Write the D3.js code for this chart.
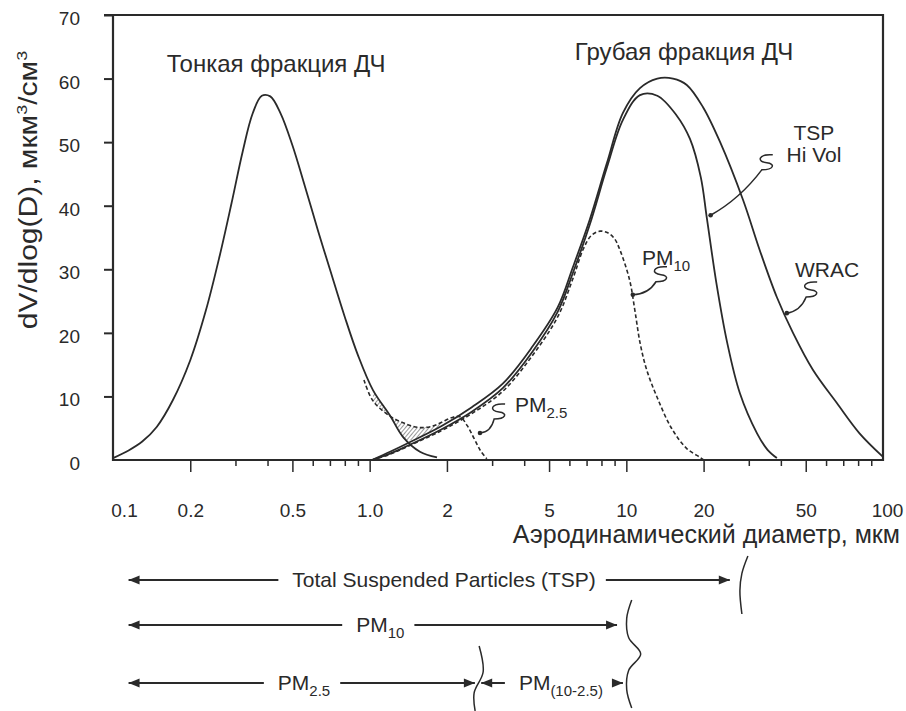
<!DOCTYPE html>
<html><head><meta charset="utf-8">
<script src="https://cdn.jsdelivr.net/npm/d3@7"></script>
<style>
body{margin:0;background:#fff}
text{font-family:"Liberation Sans",Arial,Helvetica,sans-serif;fill:#2a2a2a}
</style>
</head><body>
<svg id="chart" width="906" height="711"></svg>
<script>
// ---------------- data ----------------
const yTicks = [0,10,20,30,40,50,60,70];
const xLabelValues = [0.1,0.2,0.5,1,2,5,10,20,50,100];
const xLabelTexts  = ["0.1","0.2","0.5","1.0","2","5","10","20","50","100"];

// [diameter (µm), dV/dlog(D)]
const fineMode = [[0.1,0.3],[0.115,1.5],[0.13,2.9],[0.148,5.2],[0.171,9.4],[0.2,15.7],[0.23,23.5],
  [0.26,32],[0.29,40.5],[0.32,48.5],[0.35,54.5],[0.38,57.3],[0.41,57.2],[0.45,54.5],[0.5,49.5],
  [0.56,43],[0.63,36],[0.7,30],[0.8,22.5],[0.9,16.5],[1.03,11],[1.2,7.0],[1.35,3.6],[1.57,1.3],[1.83,0.4]];
const wrac = [[1.02,0],[1.2,1.3],[1.4,2.6],[1.9,5.3],[2.5,8.3],[3.3,12],[4.3,17.8],[5.4,24],[6.2,30.4],
  [7.2,37.8],[8.4,46.7],[9.7,54.6],[11.3,58.5],[13.2,60],[15.2,60],[17.2,59],[19.9,55.5],[23.2,50],
  [28.5,40.9],[33.1,33],[38.6,25.6],[44.6,20],[53.3,14.2],[66,9],[81,4.2],[100,0.5]];
const tspHiVol = [[1.02,0],[1.2,1.0],[1.4,2.2],[1.9,4.8],[2.5,7.6],[3.3,11.3],[4.3,17],[5.4,23.3],
  [6.2,29.5],[7.2,37],[8.4,46],[9.7,53.5],[11.3,57.4],[13.2,57.3],[15.7,54.2],[17.7,50.5],[19.5,44.5],
  [20.6,38],[22.5,27.5],[24.7,18.5],[27.7,10.5],[32.3,4.2],[35.5,1.6],[38.6,0.3]];
const pm10 = [[1.02,0],[1.2,0.9],[1.4,2.1],[1.9,4.6],[2.5,7.3],[3.3,10.8],[4.3,16.4],[5.4,22.5],
  [6.2,28.6],[6.8,33.2],[7.3,35.3],[7.9,36],[8.5,35.7],[9.0,34.8],[9.45,33],[10.3,28.3],[10.8,23.5],
  [11.3,18.5],[12.0,14.2],[13.2,9.8],[15.0,5],[17.2,1.8],[19.4,0.4],[20,0]];
const pm25 = [[0.95,12.6],[1.03,9.3],[1.2,6.9],[1.4,5.6],[1.57,5.1],[1.75,5.3],[1.9,5.9],[2.1,6.7],
  [2.25,6.8],[2.4,5.4],[2.55,3.4],[2.7,1.5],[2.86,0.2]];

// annotation anchors [D, value]: label, squiggle top, arrow target
const annotations = [
  {lines:[["PM","2.5"]], label:[3.68,7.55], squig:[3.37,8.8], target:[2.69,4.25], anchor:"start"},
  {lines:[["PM","10"]],  label:[11.5,30.7], squig:[14.4,30.4], target:[10.6,26], anchor:"start"},
  {lines:[["TSP",""],["Hi Vol",""]], label:[53.8,50.3], squig:[37.2,48], target:[21.3,38.5], anchor:"middle"},
  {lines:[["WRAC",""]], label:[45.4,28.8], squig:[55.4,28], target:[42.2,23.1], anchor:"start"}
];
const modeTitles = [
  {text:"Тонкая фракция ДЧ", at:[0.162,61]},
  {text:"Грубая фракция ДЧ", at:[6.3,62.9]}
];
// size-range bars below the axis: [from, to] in µm, label centre in µm
const rangeBars = [
  {main:"Total Suspended Particles (TSP)", sub:"", from:0.115, to:25.3, mid:1.95, row:0},
  {main:"PM", sub:"10", from:0.115, to:9.2, mid:1.1, row:1},
  {main:"PM", sub:"2.5", from:0.115, to:2.57, mid:0.555, row:2},
  {main:"PM", sub:"(10-2.5)", from:2.72, to:9.7, mid:5.56, row:2}
];
const braces = [ {at:28.2, row:0}, {at:10.4, row:1}, {at:2.67, row:2} ];

// ---------------- drawing ----------------
const svg = d3.select("#chart");
const ink = "#2a2a2a";
const x = d3.scaleLog().domain([0.1,100]).range([113,883]);
const y = d3.scaleLinear().domain([0,70]).range([460,15]);

// hatch pattern
const defs = svg.append("defs");
const pat = defs.append("pattern").attr("id","hatch").attr("width",3).attr("height",3)
  .attr("patternUnits","userSpaceOnUse").attr("patternTransform","rotate(40)");
pat.append("line").attr("x1",0).attr("y1",0).attr("x2",0).attr("y2",3).attr("stroke","#333").attr("stroke-width",1);

// y axis
const yAxis = d3.axisLeft(y).tickValues(yTicks.filter(v=>v>0)).tickSize(9).tickPadding(24).tickFormat(d3.format("d"));
const gy = svg.append("g").attr("transform","translate(113,0)").call(yAxis);
gy.select(".domain").remove();
gy.selectAll(".tick line").attr("stroke",ink).attr("stroke-width",2);
gy.selectAll(".tick text").attr("font-size",19).attr("dy","0.5em").style("fill",ink);
svg.append("text").attr("x",113-33).attr("y",y(0)).attr("dy","0.5em").attr("text-anchor","end")
  .attr("font-size",19).text("0");

// x axis: minor ticks
const allTicks = x.ticks().filter(v=>v>0.1 && v<100);
const isMajor = v => [1,2,5].includes(Math.round(v/Math.pow(10,Math.floor(Math.log10(v)+1e-9))));
const gxMinor = svg.append("g").attr("transform","translate(0,460)")
  .call(d3.axisBottom(x).tickValues(allTicks.filter(v=>!isMajor(v))).tickSize(6).tickFormat(""));
gxMinor.select(".domain").remove();
gxMinor.selectAll(".tick line").attr("stroke",ink).attr("stroke-width",1.5);
const gx = svg.append("g").attr("transform","translate(0,460)")
  .call(d3.axisBottom(x).tickValues(xLabelValues).tickSize(12).tickPadding(32)
    .tickFormat((d,i)=>xLabelTexts[i]));
gx.select(".domain").remove();
gx.selectAll(".tick line").attr("stroke",ink).attr("stroke-width",1.5)
  .attr("opacity",d=>(d===0.1||d===100)?0:1);
gx.selectAll(".tick text").attr("font-size",19).style("fill",ink)
  .attr("dx",d=>d===0.1?11:(d===100?4:0));

// frame
svg.append("path").attr("d",`M${x(0.1)-9},${y(70)}H${x(100)}V${y(0)}H${x(0.1)}V${y(70)}`)
  .attr("fill","none").attr("stroke",ink).attr("stroke-width",2.2);

// axis titles
svg.append("text").attr("x",900).attr("y",543).attr("text-anchor","end").attr("font-size",25)
  .text("Аэродинамический диаметр, мкм");
const yl = svg.append("text").attr("transform","translate(37,190) rotate(-90) scale(1.2,1)")
  .attr("text-anchor","middle").attr("font-size",25);
yl.append("tspan").text("dV/dlog(D), мкм");
yl.append("tspan").attr("font-size",15).attr("dy",-10).text("3");
yl.append("tspan").attr("dy",10).text("/см");
yl.append("tspan").attr("font-size",15).attr("dy",-10).text("3");

// curves
const line = d3.line().x(d=>x(d[0])).y(d=>y(d[1])).curve(d3.curveCatmullRom.alpha(0.5));
function interp(series, D){
  const lx = Math.log10(D);
  for(let i=0;i<series.length-1;i++){
    const a=series[i], b=series[i+1];
    if(D>=a[0] && D<=b[0]){
      const t=(lx-Math.log10(a[0]))/(Math.log10(b[0])-Math.log10(a[0]));
      return a[1]+t*(b[1]-a[1]);
    }
  }
  return 0;
}
// hatched intermodal region between PM2.5 and the larger of the two modes
const hatchPts = pm25.filter(d=>d[0]>=1.0 && d[0]<=1.9);
svg.append("path").datum(hatchPts)
  .attr("d",d3.area().x(d=>x(d[0])).y1(d=>y(d[1]))
    .y0(d=>y(Math.max(interp(fineMode,d[0]),interp(wrac,d[0])))).curve(d3.curveMonotoneX))
  .attr("fill","url(#hatch)").attr("stroke","none");

const solid = [fineMode, wrac, tspHiVol];
svg.selectAll(".solid").data(solid).enter().append("path").attr("class","solid")
  .attr("d",line).attr("fill","none").attr("stroke",ink).attr("stroke-width",1.8);
svg.selectAll(".dashed").data([pm10, pm25]).enter().append("path").attr("class","dashed")
  .attr("d",line).attr("fill","none").attr("stroke",ink).attr("stroke-width",1.6)
  .attr("stroke-dasharray","4,2.5");

// mode titles
svg.selectAll(".mt").data(modeTitles).enter().append("text").attr("class","mt")
  .attr("x",d=>x(d.at[0])).attr("y",d=>y(d.at[1])).attr("font-size",24).text(d=>d.text);

// annotations with squiggle leaders
annotations.forEach(a=>{
  const t = svg.append("text").attr("x",x(a.label[0])).attr("y",y(a.label[1]))
    .attr("text-anchor",a.anchor).attr("font-size",21);
  a.lines.forEach((ln,i)=>{
    t.append("tspan").attr("x",x(a.label[0])).attr("dy",i===0?0:22).text(ln[0]);
    if(ln[1]) t.append("tspan").attr("font-size",15).attr("dy",6).text(ln[1]);
  });
  const sx=x(a.squig[0]), sy=y(a.squig[1]);
  const tx=x(a.target[0]), ty=y(a.target[1]);
  const ex=sx-11, ey=sy+15;
  const d = `M${sx},${sy} C${sx-15},${sy-1} ${sx-16},${sy+7} ${sx-6},${sy+8}`+
            ` C${sx+3},${sy+9} ${sx+1},${sy+15} ${ex},${ey}`+
            ` Q${(ex+tx)/2+4},${(ey+ty)/2+6} ${tx},${ty}`;
  svg.append("path").attr("d",d).attr("fill","none").attr("stroke",ink).attr("stroke-width",1.5);
  svg.append("circle").attr("cx",tx).attr("cy",ty).attr("r",2.3).attr("fill",ink);
});

// range bars
const rowY = [580, 625, 683];
function arrowHead(xt, yv, dir){
  svg.append("path").attr("d",`M${xt},${yv} L${xt-dir*11},${yv-4.5} L${xt-dir*11},${yv+4.5}Z`).attr("fill",ink);
}
rangeBars.forEach(b=>{
  const yv = rowY[b.row];
  const t = svg.append("text").attr("x",x(b.mid)).attr("y",yv+7).attr("text-anchor","middle").attr("font-size",21);
  t.append("tspan").text(b.main);
  if(b.sub) t.append("tspan").attr("font-size",15).attr("dy",6).text(b.sub);
  const bb = t.node().getBBox();
  const x1=x(b.from), x2=x(b.to);
  svg.append("line").attr("x1",x1).attr("x2",bb.x-14).attr("y1",yv).attr("y2",yv).attr("stroke",ink).attr("stroke-width",2);
  svg.append("line").attr("x1",bb.x+bb.width+10).attr("x2",x2).attr("y1",yv).attr("y2",yv).attr("stroke",ink).attr("stroke-width",2);
  arrowHead(x1,yv,-1); arrowHead(x2,yv,1);
});
// braces
const braceShapes = [
  {top:556, bottom:614, pts:[[6,0],[0,0.3],[-2,0.6],[0,1]]},
  {top:600, bottom:708, pts:[[1,0],[-4,0.17],[-2,0.35],[10,0.5],[-2,0.65],[-4,0.83],[1,1]]},
  {top:646, bottom:711, pts:[[0,0],[4,0.4],[-5,0.72],[-4,1]]}
];
braces.forEach((b,i)=>{
  const s=braceShapes[i], cx=x(b.at);
  svg.append("path").datum(s.pts)
    .attr("d",d3.line().x(p=>cx+p[0]).y(p=>s.top+p[1]*(s.bottom-s.top)).curve(d3.curveCatmullRom))
    .attr("fill","none").attr("stroke",ink).attr("stroke-width",1.5);
});
</script>
</body></html>
